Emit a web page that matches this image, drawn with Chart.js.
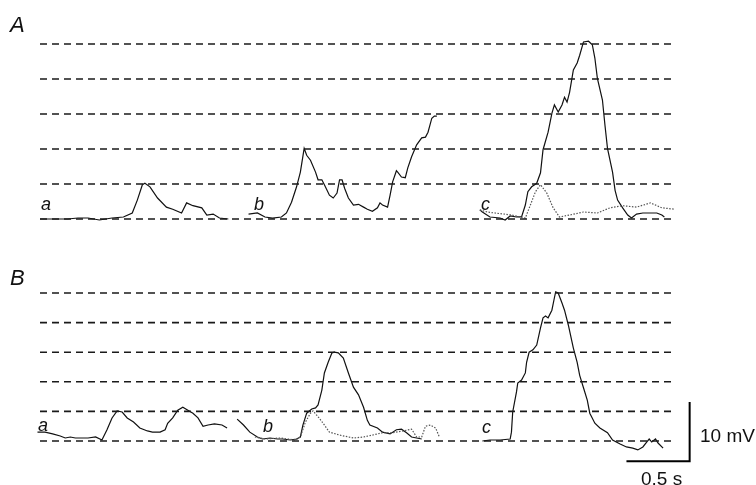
<!DOCTYPE html>
<html>
<head>
<meta charset="utf-8">
<script src="https://cdn.jsdelivr.net/npm/chart.js@4"></script>
<style>
  body { margin: 0; background: #fff; }
  #fig { position: relative; width: 756px; height: 485px; overflow: hidden; font-family: "Liberation Sans", Arial, sans-serif; color: #111; }
  .panel { position: absolute; left: 0; width: 756px; height: 240px; }
  .lbl { position: absolute; line-height: 1; white-space: nowrap; }
  .big { font-size: 22px; font-style: italic; }
  .tr { font-size: 18px; font-style: italic; }
  .bar { font-size: 19px; }
</style>
</head>
<body>
<div id="fig">
  <div class="panel" style="top:0"><canvas id="chartA"></canvas></div>
  <div class="panel" style="top:245px"><canvas id="chartB"></canvas></div>
  <span class="lbl big" style="left:10px;top:14px">A</span>
  <span class="lbl big" style="left:10px;top:267px">B</span>
  <span class="lbl tr" style="left:41px;top:195px">a</span>
  <span class="lbl tr" style="left:254px;top:195px">b</span>
  <span class="lbl tr" style="left:481px;top:195px">c</span>
  <span class="lbl tr" style="left:38px;top:416px">a</span>
  <span class="lbl tr" style="left:263px;top:417px">b</span>
  <span class="lbl tr" style="left:482px;top:418px">c</span>
  <span class="lbl bar" style="left:700px;top:426px">10 mV</span>
  <span class="lbl bar" style="left:641px;top:469px">0.5 s</span>
</div>
<script>
// reference levels (mV) for the dashed lines, and their time span (s)
const levels = [0, 5, 10, 15, 20, 25];
const levelSpan = [0, 5];

// panel A
const aTimeA = [0, 0.12, 0.22, 0.30, 0.38, 0.47, 0.57, 0.66, 0.73, 0.77, 0.81, 0.83, 0.87, 0.93, 1.00, 1.05, 1.12, 1.16, 1.21, 1.28, 1.32, 1.37, 1.42, 1.49];
const aMvA = [0, 0, 0, 0.14, 0.14, -0.14, 0.14, 0.29, 0.86, 2.7, 4.9, 5.1, 4.6, 3.0, 1.7, 1.4, 0.86, 2.3, 1.9, 1.6, 0.57, 0.71, 0.14, 0];

const bTimeA = [1.65, 1.72, 1.78, 1.84, 1.91, 1.95, 1.99, 2.03, 2.06, 2.09, 2.11, 2.14, 2.18, 2.20, 2.23, 2.25, 2.29, 2.32, 2.35, 2.37, 2.39, 2.41, 2.44, 2.48, 2.52, 2.56, 2.59, 2.63, 2.67, 2.69, 2.71, 2.75, 2.77, 2.79, 2.82, 2.83, 2.86, 2.89, 2.91, 2.94, 2.98, 3.02, 3.05, 3.07, 3.10, 3.12, 3.14];
const bMvA = [0.71, 0.86, 0.29, 0.14, 0.29, 0.86, 2.4, 4.6, 6.7, 10.1, 9.1, 8.4, 6.7, 5.6, 5.6, 4.9, 3.4, 3.0, 3.7, 5.6, 5.6, 4.4, 3.0, 2.0, 2.1, 1.7, 1.4, 1.1, 1.6, 2.3, 2.0, 1.7, 3.4, 5.3, 6.9, 6.7, 6.0, 5.9, 7.3, 8.9, 10.6, 11.6, 11.7, 12.4, 14.4, 14.7, 14.7];

const cTimeA = [3.48, 3.50, 3.56, 3.64, 3.68, 3.72, 3.77, 3.81, 3.84, 3.86, 3.89, 3.93, 3.96, 3.98, 4.02, 4.05, 4.07, 4.10, 4.13, 4.15, 4.17, 4.19, 4.22, 4.25, 4.27, 4.30, 4.34, 4.37, 4.39, 4.41, 4.45, 4.47, 4.49, 4.53, 4.55, 4.57, 4.61, 4.65, 4.68, 4.72, 4.77, 4.83, 4.88, 4.92, 4.94];
const cMvA = [1.3, 1.0, 0.29, 0.14, -0.14, 0.43, 0.29, 0.29, 2.0, 3.9, 4.6, 5.1, 6.6, 9.9, 12.4, 15.1, 16.3, 15.3, 16.3, 17.4, 16.7, 18.1, 21.3, 22.3, 23.4, 25.3, 25.4, 24.9, 23.0, 20.1, 17.0, 13.4, 10.1, 6.7, 4.1, 2.7, 1.6, 0.57, 0.14, 0.71, 0.86, 0.86, 0.86, 0.57, 0.29];

const cCtrlTimeA = [3.48, 3.54, 3.60, 3.73, 3.84, 3.88, 3.92, 3.96, 4.01, 4.06, 4.11, 4.19, 4.30, 4.41, 4.51, 4.61, 4.72, 4.83, 4.92, 5.02];
const cCtrlMvA = [1.3, 1.0, 0.86, 0.57, 0.14, 2.0, 3.9, 4.9, 3.7, 1.6, 0.29, 0.57, 1.0, 0.86, 1.6, 1.9, 1.7, 2.3, 1.6, 1.4];

// panel B
const aTimeB = [-0.02, 0.04, 0.10, 0.16, 0.20, 0.24, 0.28, 0.33, 0.38, 0.44, 0.49, 0.53, 0.57, 0.61, 0.65, 0.69, 0.74, 0.79, 0.85, 0.89, 0.95, 0.99, 1.01, 1.05, 1.09, 1.13, 1.17, 1.21, 1.25, 1.29, 1.33, 1.38, 1.44, 1.48];
const aMvB = [1.5, 1.5, 1.2, 0.84, 0.51, 0.68, 0.51, 0.51, 0.51, 0.68, 0.17, 1.9, 3.9, 5.1, 4.9, 3.9, 3.2, 2.2, 1.7, 1.5, 1.5, 1.9, 3.0, 3.9, 5.2, 5.7, 5.2, 4.7, 3.9, 2.5, 2.7, 2.9, 2.7, 2.2];

const bTimeB = [1.56, 1.61, 1.66, 1.72, 1.76, 1.82, 1.88, 1.92, 1.98, 2.03, 2.06, 2.08, 2.11, 2.15, 2.18, 2.20, 2.23, 2.25, 2.28, 2.31, 2.33, 2.36, 2.40, 2.44, 2.48, 2.52, 2.56, 2.59, 2.61, 2.67, 2.71, 2.77, 2.82, 2.86, 2.90, 2.94, 2.98, 3.02];
const bMvB = [3.7, 2.7, 1.5, 0.68, 0.34, 0.51, 0.34, 0.34, 0.17, 0.34, 0.68, 2.7, 4.7, 5.4, 5.6, 6.1, 8.6, 11.5, 13.3, 14.9, 15.0, 14.9, 14.0, 11.5, 9.1, 7.8, 5.7, 3.5, 2.7, 2.2, 1.5, 1.2, 1.9, 2.0, 1.4, 0.68, 0.51, 0.34];

const bCtrlTimeB = [1.70, 1.78, 1.90, 2.02, 2.06, 2.10, 2.14, 2.16, 2.20, 2.24, 2.29, 2.37, 2.48, 2.56, 2.63, 2.71, 2.79, 2.87, 2.94, 2.98, 3.02, 3.05, 3.09, 3.13, 3.16];
const bCtrlMvB = [0.68, 0.34, 0.51, 0.17, 0.68, 3.2, 4.7, 5.1, 4.1, 3.0, 1.5, 1.0, 0.51, 0.68, 1.0, 1.4, 1.4, 1.7, 2.0, 0.68, 0.68, 2.5, 2.7, 2.2, 0.68];

const cTimeB = [3.50, 3.56, 3.64, 3.72, 3.73, 3.74, 3.77, 3.78, 3.81, 3.84, 3.85, 3.87, 3.90, 3.93, 3.96, 3.98, 4.00, 4.02, 4.05, 4.07, 4.08, 4.10, 4.13, 4.15, 4.18, 4.22, 4.25, 4.27, 4.30, 4.33, 4.35, 4.39, 4.43, 4.49, 4.53, 4.59, 4.64, 4.69, 4.73, 4.77, 4.80, 4.82, 4.84, 4.87, 4.89, 4.93];
const cMvB = [0, 0.17, 0.17, 0.34, 1.5, 4.9, 8.3, 9.8, 10.3, 11.5, 13.3, 15.0, 15.4, 16.2, 19.1, 20.8, 21.1, 20.8, 22.1, 24.2, 25.2, 25.0, 23.3, 22.1, 19.6, 15.7, 13.3, 11.1, 9.0, 6.9, 4.7, 3.0, 2.2, 1.4, 0.17, -0.51, -1.0, -1.2, -1.5, -1.0, -0.17, 0.34, -0.17, 0.34, -0.34, -1.2];

// calibration bar: 0.5 s by 10 mV
const barTime = [4.64, 5.14, 5.14];
const barMv = [-3.4, -3.4, 6.6];

const xy = (ts, vs) => ts.map((t, i) => ({ x: t, y: vs[i] }));

function levelSets() {
  return levels.map(v => ({
    data: xy(levelSpan, [v, v]),
    borderColor: '#1a1a1a',
    borderWidth: 1.6,
    borderDash: [7, 5],
    pointRadius: 0
  }));
}

function trace(ts, vs) {
  return { data: xy(ts, vs), borderColor: '#111', borderWidth: 1.2, pointRadius: 0 };
}

function control(ts, vs) {
  return { data: xy(ts, vs), borderColor: '#555', borderWidth: 1.2, borderDash: [1.5, 1.5], pointRadius: 0 };
}

function makeChart(id, sets, yMin, yMax) {
  new Chart(document.getElementById(id), {
    type: 'line',
    data: { datasets: sets },
    options: {
      responsive: true,
      maintainAspectRatio: false,
      animation: false,
      layout: { padding: 0 },
      plugins: { legend: { display: false }, tooltip: { enabled: false } },
      elements: { line: { tension: 0 } },
      scales: {
        x: { type: 'linear', min: -0.3165, max: 5.665, display: false },
        y: { min: yMin, max: yMax, display: false }
      }
    }
  });
}

makeChart('chartA', [
  ...levelSets(),
  control(cCtrlTimeA, cCtrlMvA),
  trace(aTimeA, aMvA),
  trace(bTimeA, bMvA),
  trace(cTimeA, cMvA)
], -3, 31.29);

makeChart('chartB', [
  ...levelSets(),
  control(bCtrlTimeB, bCtrlMvB),
  trace(aTimeB, aMvB),
  trace(bTimeB, bMvB),
  trace(cTimeB, cMvB),
  { data: xy(barTime, barMv), borderColor: '#000', borderWidth: 2, pointRadius: 0 }
], -7.43, 33.11);
</script>
</body>
</html>
